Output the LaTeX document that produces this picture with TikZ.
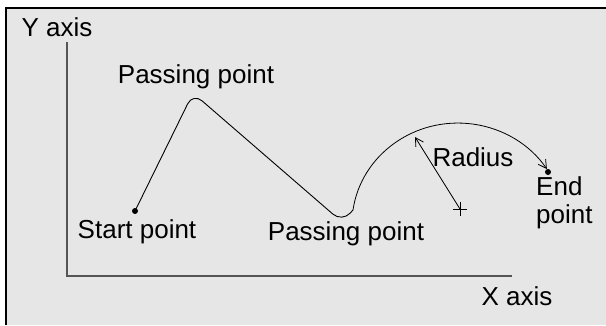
\documentclass[tikz,border=0pt]{standalone}
\usepackage{fontspec}
\setmainfont{Liberation Sans}
\usetikzlibrary{arrows.meta}

\definecolor{panelgray}{HTML}{E6E6E6}
\definecolor{axisgray}{HTML}{555555}

\begin{document}
\begin{tikzpicture}[
  x=1pt, y=-1pt,
  font=\fontsize{26}{28}\selectfont,
  label_txt/.style={inner sep=0pt, align=left},
  axis_line/.style={draw=axisgray, line width=1.3pt},
  path_line/.style={draw=black, line width=0.9pt},
  radius_arrow/.style={-{Straight Barb[length=8pt,width=9pt]}, line width=0.8pt},
  pt_dot/.style={circle, fill=black, inner sep=0pt, minimum size=6pt},
]

\useasboundingbox (0,0) rectangle (606,325);
\fill[white] (0,0) rectangle (606,325);
\fill[panelgray] (6,8) rectangle (606,325);
\draw[line width=2pt] (6,325) -- (6,8) -- (606,8);

% axes
\coordinate (y_top) at (67,42);
\coordinate (origin) at (67,276);
\coordinate (x_end) at (512,276);
\draw[axis_line] (y_top) -- (origin) -- (x_end);
\node[label_txt] (lbl_y) at (57,27) {Y axis};
\node[label_txt] (lbl_x) at (517,296) {X axis};

% path points
\node[pt_dot] (start_pt) at (135,211) {};
\coordinate (pass_top) at (193,93);
\coordinate (pass_low) at (342,222);
\coordinate (arc_start) at (353,210);
\node[pt_dot] (end_pt) at (548,172) {};

\draw[path_line] (start_pt.center) [rounded corners=12pt] -- (pass_top) -- (pass_low)
  -- (arc_start);
\draw[path_line, radius_arrow] (arc_start)
  arc[start angle=-172, end angle=-33, x radius=106, y radius=101];

\node[label_txt] (lbl_pass_top) at (196,77) {Passing point};
\node[label_txt] (lbl_start) at (137,232) {Start point};
\node[label_txt] (lbl_pass_low) at (346,234) {Passing point};

% radius
\coordinate (center_pt) at (460,209);
\coordinate (arc_pt) at (415,137);
\draw[line width=0.8pt] (center_pt) ++(-7,0) -- ++(14,0) (center_pt) ++(0,-7) -- ++(0,14);
\draw[radius_arrow] (center_pt) -- (arc_pt);
\node[label_txt] (lbl_radius) at (473,157) {Radius};
\node[label_txt, anchor=north west] (lbl_end) at (536,176) {End\\point};

\end{tikzpicture}
\end{document}
